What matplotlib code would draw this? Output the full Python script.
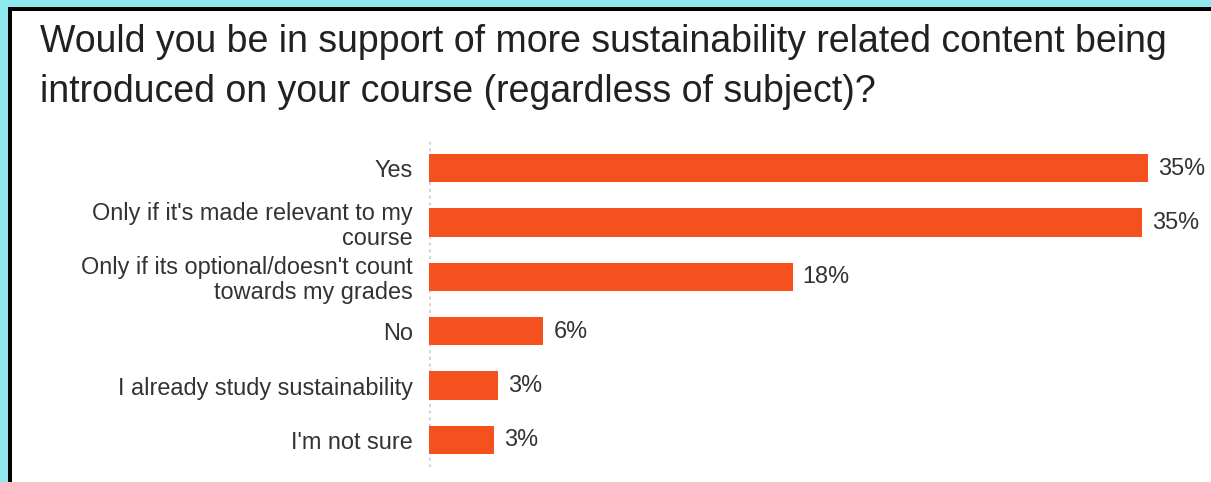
import matplotlib
matplotlib.use("Agg")
import matplotlib.pyplot as plt
from matplotlib.patches import Rectangle

# Survey responses (percent of respondents)
categories = [
    "Yes",
    "Only if it's made relevant to my\ncourse",
    "Only if its optional/doesn't count\ntowards my grades",
    "No",
    "I already study sustainability",
    "I'm not sure",
]
percentages = [35.2, 34.9, 17.8, 5.6, 3.4, 3.2]

title_lines = [
    "Would you be in support of more sustainability related content being",
    "introduced on your course (regardless of subject)?",
]

W, H = 1211, 482
DPI = 100
BAR_COLOR = "#f4511e"
TEXT_COLOR = "#333333"
FONT = "Liberation Sans"

fig = plt.figure(figsize=(W / DPI, H / DPI), dpi=DPI)
fig.patch.set_facecolor("#8ee8f0")

# Card with a black frame on the top and left edges
fig.add_artist(Rectangle((8 / W, 0), 1, 1 - 7 / H, transform=fig.transFigure,
                         facecolor="black", edgecolor="none", zorder=0))
fig.add_artist(Rectangle((12 / W, 0), 1, 1 - 11 / H, transform=fig.transFigure,
                         facecolor="white", edgecolor="none", zorder=0))

# Title, two lines
for i, line in enumerate(title_lines):
    fig.text(40 / W, 1 - (52 + 50.5 * i) / H, line, fontsize=27, family=FONT,
             color="#212121", ha="left", va="baseline")

# Plot area
ax_left, ax_right = 429, 1195
ax_top, ax_bottom = 141, 467
ax = fig.add_axes([ax_left / W, 1 - ax_bottom / H,
                   (ax_right - ax_left) / W, (ax_bottom - ax_top) / H])
ax.set_facecolor("none")

y = list(range(len(categories)))
ax.barh(y, percentages, height=0.52, color=BAR_COLOR, left=0, zorder=2)

ax.set_xlim(0, 37.5)
ax.set_ylim(len(categories) - 0.5, -0.5)

for spine in ax.spines.values():
    spine.set_visible(False)
ax.axvline(0, color="#d6d6d6", linewidth=2.2, linestyle=(0, (1, 1.2)), zorder=1)

ax.set_xticks([])
ax.set_yticks(y)
ax.set_yticklabels(categories, fontsize=16.9, family=FONT, color=TEXT_COLOR,
                   linespacing=1.12)
ax.tick_params(axis="y", length=0, pad=11.5)

for yi, v in zip(y, percentages):
    ax.annotate(f"{v:.0f}%", xy=(v, yi), xytext=(10, 0), textcoords="offset pixels",
                ha="left", va="center", fontsize=16.9, family=FONT, color=TEXT_COLOR)

fig.savefig("out.png", dpi=DPI, facecolor=fig.get_facecolor())
